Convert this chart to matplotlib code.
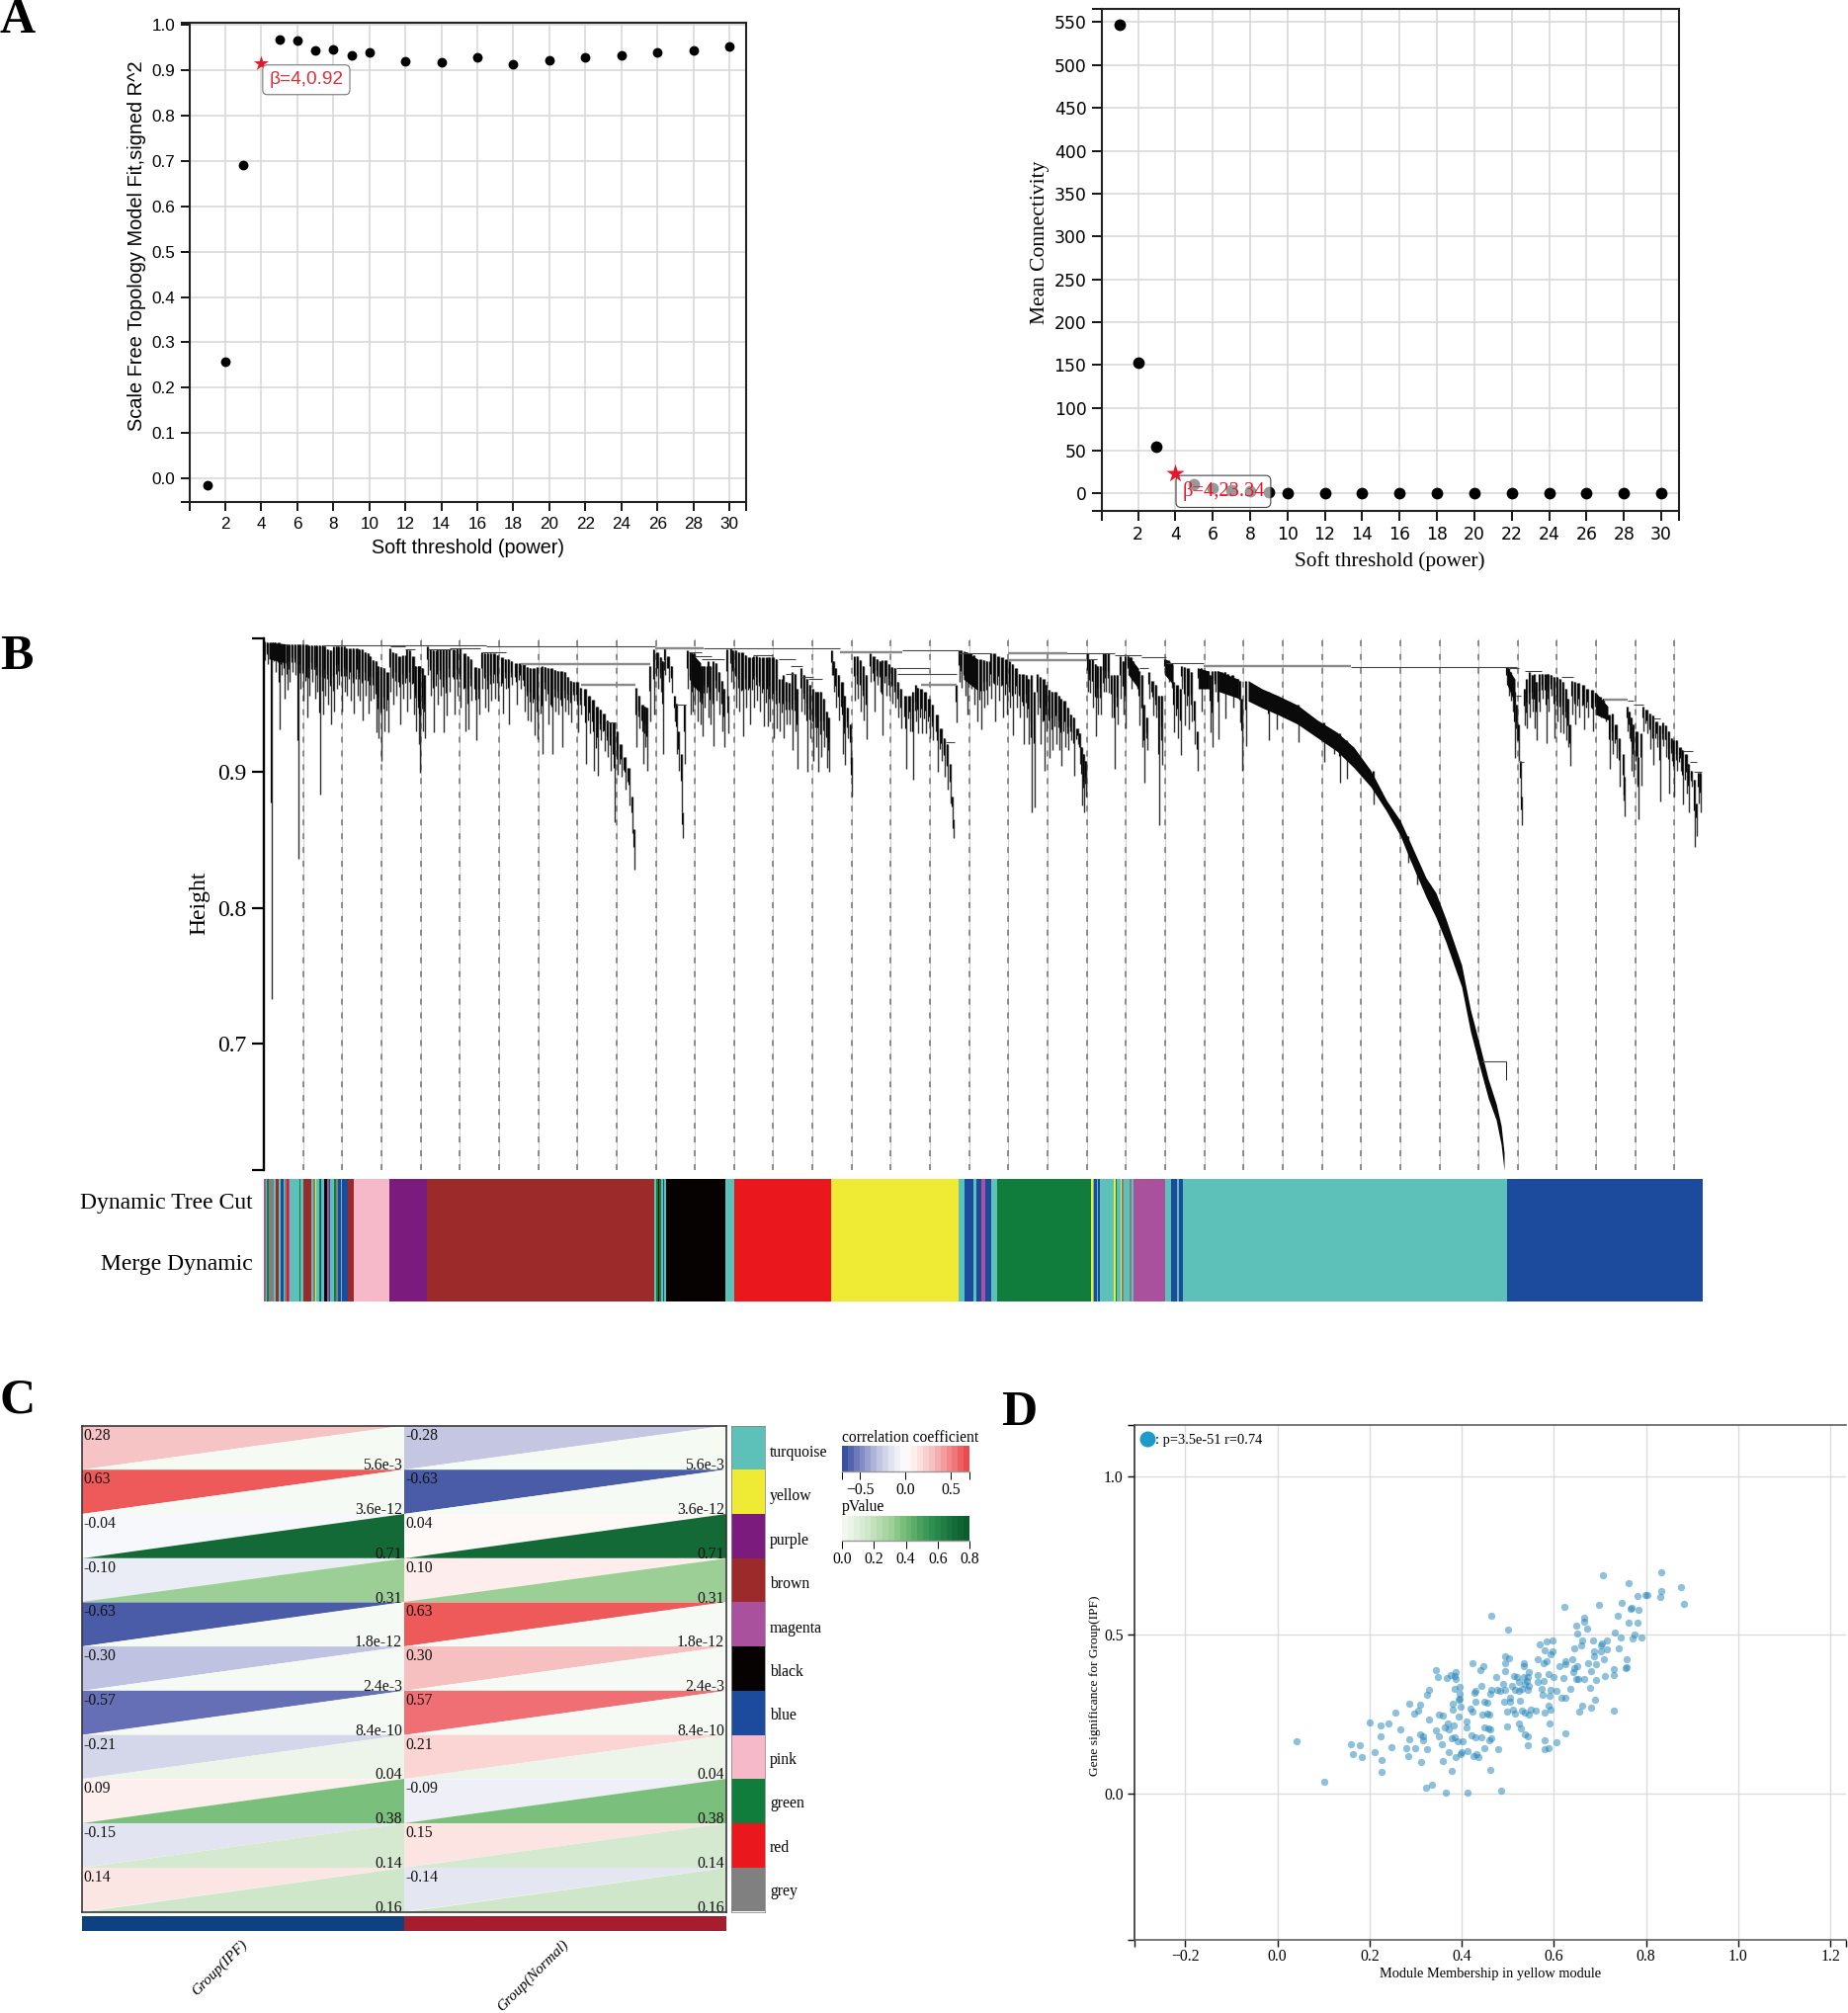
import numpy as np
import matplotlib
matplotlib.use("Agg")
import matplotlib.pyplot as plt
from matplotlib.colors import LinearSegmentedColormap, Normalize
from matplotlib.collections import LineCollection
from matplotlib.patches import Polygon

W, H = 1870, 2037
SERIF = "Liberation Serif"
SANS = "Liberation Sans"

# ---------- Panel A ----------
power = [1,2,3,4,5,6,7,8,9,10,12,14,16,18,20,22,24,26,28,30]
fit_r2 = [-0.014,0.258,0.690,0.916,0.967,0.965,0.943,0.947,0.934,0.940,0.920,0.917,0.929,0.914,0.923,0.928,0.934,0.940,0.944,0.953]
mean_k = [547,153,55,23.34,11,6.5,4,2.5,1.5,1.0,0.6,0.3,0.2,0.1,0.08,0.06,0.05,0.04,0.03,0.02]
picked_power = 4
power_ticks = [2,4,6,8,10,12,14,16,18,20,22,24,26,28,30]
fit_ticks = [0.0,0.1,0.2,0.3,0.4,0.5,0.6,0.7,0.8,0.9,1.0]
k_ticks = [0,50,100,150,200,250,300,350,400,450,500,550]

# ---------- Panel B ----------
# (leaf position, branch top, leaf tip) - heights in thousandths
tree_first = [
(1,996,982),(4,995,979),(8,995,733),(10,995,981),(12,995,973),(16,995,931),(18,994,971),(21,994,954),(24,994,960),(26,994,966),
(29,994,973),(32,994,971),(35,994,836),(37,994,961),(40,994,952),(44,994,940),(46,993,956),(49,993,966),(52,993,954),(54,993,959),
(57,993,883),(60,993,942),(62,992,956),(65,990,949),(68,989,935),(71,992,944),(74,992,961),(76,992,964),(79,992,944),(82,992,959),
(84,991,956),(88,991,952),(91,991,943),(95,991,956),(97,990,952),(100,990,938),(103,988,956),(106,987,943),(108,985,952),(111,982,954),
(114,981,929),(116,978,925),(119,977,908),(122,976,930),(126,973,929),(128,991,959),(131,988,949),(134,987,956),(138,985,935),(141,986,954),
(145,990,944),(148,989,954),(152,985,942),(154,978,930),(157,978,920),(158,978,899),(161,976,930),(163,971,925),(166,992,971),(169,990,956),
(172,989,929),(176,990,949),(179,990,956),(182,990,929),(185,990,941),(188,990,959),(193,990,942),(196,991,956),(199,991,947),(204,987,930),
(207,985,931),(210,983,952),(215,977,923),(218,976,942),(221,988,961),(224,987,947),(227,987,944),(230,987,952),(234,987,954),(237,986,952),
(242,984,943),(245,983,961),(248,983,935),(251,981,964),(256,980,949),(260,980,961),(264,979,944),(267,977,938),(270,976,937),(274,976,927),
(277,977,924),(282,978,913),(285,977,952),(288,976,935),(292,976,913),(295,975,944),(298,974,942),(302,974,918),(305,973,944),(308,970,942),
(311,967,936),(314,966,952),(318,966,929),(321,962,942),(326,961,906),(330,956,928),(334,953,901),(338,948,897),(341,946,923),(345,943,915),
(348,938,911),(351,936,901),(355,936,863),(358,930,898),(362,920,896),(366,911,887),(370,903,875),(373,882,855),(375,858,828),
]
tree_second = [
(377,962,918),(380,956,932),(384,949,906),(386,948,918),(388,947,901),(391,978,937),(395,990,942),(399,988,961),(402,984,959),(404,981,913),
(406,991,971),(410,985,966),(413,978,958),(416,956,937),(418,950,913),(420,930,901),(423,913,870),(424,870,851),(426,949,906),(429,989,961),
(432,988,942),(434,987,944),(436,987,949),(439,981,937),(442,978,935),(444,978,926),(446,978,947),(450,981,940),(452,978,935),(455,981,919),
(458,980,952),(461,973,942),(464,967,930),(466,961,918),(469,990,954),(470,956,928),(473,991,966),(475,989,961),(478,989,947),(481,988,944),
(485,988,926),(488,986,947),(492,984,935),(496,985,947),(499,985,952),(502,984,944),(506,984,933),(510,984,933),(512,984,937),(516,984,925),
(519,983,932),(522,968,930),(526,971,925),(529,966,935),(532,965,935),(535,973,916),(538,972,930),(540,961,902),(544,976,944),(547,971,942),
(550,968,900),(553,964,925),(556,961,908),(559,959,918),(561,959,900),(564,959,911),(567,954,918),(570,944,903),(572,940,900),(575,989,971),
(577,981,959),(579,976,947),(582,971,938),(586,966,913),(588,956,905),(591,947,925),(594,935,906),(595,911,882),(598,985,952),(601,985,954),
(604,982,944),(607,978,938),(610,971,924),(614,987,966),(618,985,944),(621,983,964),(624,981,959),(626,982,927),(630,982,956),(633,979,956),
(636,977,950),(639,976,947),(642,966,940),(645,961,932),(650,956,902),(654,956,930),(657,959,894),(660,964,937),(662,962,928),(666,961,928),
(670,959,928),(674,954,925),(677,949,923),(682,942,900),(686,932,908),(689,925,896),(692,920,887),(695,906,877),(697,882,865),(698,865,851),
]
tree_third = [
(701,964,936),(704,989,966),(706,989,962),(710,988,956),(712,988,942),(716,987,961),(719,986,949),(722,983,937),(726,983,931),(729,982,947),
(732,981,949),(736,987,954),(740,987,937),(744,985,952),(748,984,940),(752,983,942),(755,981,947),(758,979,927),(762,976,947),(765,972,940),
(769,972,920),(772,971,940),(774,968,920),(777,971,870),(780,959,874),(783,972,942),(786,970,920),(790,968,901),(792,964,930),(795,960,910),
(798,959,916),(802,959,920),(805,956,916),(807,954,904),(811,952,918),(814,947,916),(817,942,923),(820,940,897),(824,932,920),(826,928,906),
(828,918,875),(830,913,870),(832,908,882),(834,987,959),(836,983,958),(839,983,947),(842,979,926),(844,978,942),(847,978,942),(850,987,959),
(852,987,959),(855,987,958),(858,971,940),(861,971,902),(864,971,935),(867,985,954),(870,981,942),(872,985,932),(875,985,971),(878,984,961),
(880,981,968),(884,976,961),(886,974,934),(889,971,918),(891,949,892),(894,940,916),(896,973,954),(900,967,941),(903,964,940),(906,956,861),
(909,956,905),(912,983,971),(916,982,966),(919,979,962),(921,966,929),(925,964,925),(928,961,912),(929,978,961),(932,977,934),(936,976,931),
(939,973,937),(942,952,920),(945,930,901),(946,976,961),(949,976,944),(952,975,961),(956,974,961),(958,971,929),(960,974,918),(963,974,959),
(966,974,924),(970,973,959),(973,973,939),(976,972,959),(981,971,947),(986,968,954),(988,967,936),(990,954,901),(994,967,919),
(1017,959,923),(1025,956,931),(1047,949,922),(1073,936,907),(1083,930,913),(1089,928,892),(1096,923,895),(1123,901,876),(1158,853,833),(1167,832,817),(1180,817,805),
]
tree_fourth = [
(1258,977,964),(1260,976,956),(1262,973,952),(1264,968,944),(1266,959,910),(1268,949,923),(1270,935,908),(1272,908,881),(1273,882,861),(1276,961,934),
(1278,968,932),(1281,973,940),(1284,971,944),(1286,972,932),(1288,966,923),(1291,972,944),(1294,972,954),(1298,972,921),(1300,972,944),(1303,971,956),
(1306,970,925),(1309,970,937),(1312,968,929),(1315,966,928),(1318,961,923),(1320,954,918),(1322,935,904),(1324,967,942),(1327,966,935),(1331,965,940),
(1336,964,931),(1340,961,940),(1345,960,930),(1348,958,942),(1353,955,940),(1356,954,942),(1358,949,937),(1362,942,902),(1365,943,913),(1369,935,910),
(1372,925,889),(1376,913,879),(1377,896,867),(1380,948,930),(1382,944,925),(1384,940,901),(1386,935,896),(1390,930,889),(1391,911,865),(1394,928,890),
(1396,948,930),(1400,946,928),(1403,943,917),(1406,941,905),(1410,937,918),(1413,934,878),(1416,936,919),(1419,934,911),(1422,930,884),(1425,925,908),
(1427,923,882),(1430,923,901),(1434,918,901),(1436,916,876),(1440,913,884),(1442,906,870),(1445,901,889),(1448,894,845),(1450,877,853),(1452,899,877),(1454,899,870),
]
# dense run of the turquoise module: upper and lower edge of the solid band
band_leaf = [996,1010,1026,1046,1066,1086,1103,1120,1136,1150,1160,1176,1186,1196,1212,1221,1230,1239,1247,1252,1255]
band_upper = [967,961,956,949,938,929,918,901,879,864,848,822,811,792,758,725,700,674,656,640,620]
band_lower = [952,947,942,935,925,915,903,889,871,853,835,808,793,775,742,709,684,660,644,626,607]
# other solid blocks of branches: start, end, top at start, top at end, bottom at start, bottom at end
dense_blocks = [(946,956,976,974,961,961),(966,986,974,968,959,954),(875,885,985,976,971,961),(912,920,983,979,971,964),
                (1258,1266,977,968,964,950),(1348,1360,958,948,942,938),(5,22,995,994,983,980),
                (432,442,988,980,965,958),(708,722,989,983,968,960)]
# merges: start leaf, end leaf, height
merges_thin = [(60,225,993),(225,396,992),(445,583,991),(646,703,989),(703,736,987),(793,861,987),(861,888,986),(888,913,984),(913,951,980),
(1100,1268,977),(346,356,936),(417,427,949),(641,701,972),(640,673,976),(690,699,922),(430,443,988),(436,453,985),(443,466,983),(495,515,986),
(521,538,983),(533,545,978),(528,536,972),(551,565,968),(543,556,970),(1260,1270,976),(1276,1293,974),(1313,1325,970),(1380,1386,952),(1386,1396,949),
(1406,1413,939),(1436,1446,915),(1443,1450,907),(1447,1455,900),(1267,1272,956),(1270,1275,907),(836,843,983),(886,895,976),(128,143,992),(143,153,990),
(166,190,990),(188,219,991),(221,245,988),(1232,1257,687)]
merges_thick = [(396,445,991),(583,646,988),(753,813,987),(753,833,982),(951,1100,978),(260,391,979),(321,376,964),(665,701,964),(1356,1380,953)]
guide_step = 39.65
guide_count = 36
height_ticks = [0.7,0.8,0.9]

module_color = {"turquoise":"#5DC0B9","yellow":"#EFEA34","purple":"#7B1B7D","brown":"#9C2A2B","magenta":"#A9519C","black":"#060202",
                "blue":"#1C4A9C","pink":"#F5B9C9","green":"#117D3D","red":"#EA171C","grey":"#808080"}
# module strip, read left to right: (module, number of leaves)
strip = [("magenta",2),("turquoise",1),("green",2),("grey",5),("turquoise",2),("brown",3),("turquoise",2),("blue",3),("turquoise",1),("grey",2),("red",2),
("magenta",1),("turquoise",10),("green",1),("turquoise",3),("brown",8),("turquoise",2),("grey",2),("yellow",1),("turquoise",3),("green",1),("blue",1),
("turquoise",3),("black",3),("magenta",2),("blue",1),("turquoise",4),("green",2),("grey",2),("blue",3),("turquoise",1),("blue",6),("brown",6),
("pink",36),("purple",37.5),("brown",230.5),
("turquoise",2),("green",2),("black",1),("green",2),("turquoise",2),("blue",1),("turquoise",2),
("black",60),("turquoise",9),("red",98),("yellow",129),
("turquoise",6),("blue",9),("turquoise",3),("blue",5),("magenta",4),("blue",6),("turquoise",6),
("green",95),
("yellow",2),("turquoise",1),("blue",3),("turquoise",1),("blue",2),("turquoise",14),("yellow",2),("green",1),("turquoise",4),("yellow",1),("grey",2),("turquoise",6),("grey",2),("turquoise",2),
("magenta",32),
("turquoise",6),("blue",6),("turquoise",2),("blue",4),("turquoise",3),
("turquoise",325),("blue",198)]

# ---------- Panel C ----------
modules = ["turquoise","yellow","purple","brown","magenta","black","blue","pink","green","red","grey"]
cor_ipf = [0.28,0.63,-0.04,-0.10,-0.63,-0.30,-0.57,-0.21,0.09,-0.15,0.14]
cor_normal = [-0.28,-0.63,0.04,0.10,0.63,0.30,0.57,0.21,-0.09,0.15,-0.14]
p_values = [5.6e-3,3.6e-12,0.71,0.31,1.8e-12,2.4e-3,8.4e-10,0.04,0.38,0.14,0.16]
p_labels = ["5.6e-3","3.6e-12","0.71","0.31","1.8e-12","2.4e-3","8.4e-10","0.04","0.38","0.14","0.16"]
traits = ["Group(IPF)","Group(Normal)"]
trait_colors = ["#0E4180","#A61E2E"]
cor_stops = [(-0.70,"#2D479F"),(-0.63,"#4A5CA8"),(-0.57,"#656FB5"),(-0.30,"#BFC2E0"),(-0.15,"#E2E4F1"),(0.0,"#FFFFFF"),
             (0.15,"#FCE4E2"),(0.30,"#F6BFC0"),(0.57,"#EF7075"),(0.63,"#EE5A5A"),(0.71,"#E9424A")]

# ---------- Panel D ----------
mm = [.832,.707,.763,.875,.834,.831,.781,.798,.803,.748,.697,.623,.768,.766,.784,.883,.464,.739,.665,.666,.762,.782,.649,.673,.500,.733,.651,.775,.744,.771,
.791,.662,.685,.716,.704,.597,.585,.570,.659,.645,.741,.703,.579,.598,.688,.714,.703,.593,.495,.502,.564,.688,.640,.758,.708,.625,.584,.535,.675,.423,
.447,.495,.534,.577,.613,.626,.691,.650,.645,.759,.756,.729,.345,.440,.495,.681,.643,.545,.386,.377,.384,.348,.368,.386,.475,.514,.520,.565,.588,.544,
.600,.621,.648,.652,.666,.691,.711,.729,.534,.541,.578,.564,.490,.509,.525,.546,.538,.442,.395,.385,.430,.427,.465,.477,.484,.494,.515,.525,.531,.543,
.574,.593,.606,.635,.678,.330,.324,.395,.463,.576,.590,.624,.616,.396,.393,.286,.310,.381,.397,.430,.449,.455,.493,.505,.505,.526,.588,.662,.681,.690,
.731,.306,.296,.257,.380,.420,.424,.498,.512,.516,.530,.537,.545,.549,.561,.579,.592,.656,.350,.359,.445,.455,.460,.393,.200,.242,.224,.329,.410,.525,
.590,.267,.363,.370,.382,.411,.343,.449,.457,.461,.499,.529,.372,.309,.224,.316,.286,.317,.350,.378,.384,.391,.403,.421,.429,.442,.460,.465,.538,.543,
.624,.581,.606,.042,.159,.180,.247,.279,.298,.357,.325,.450,.480,.544,.588,.579,.164,.183,.212,.283,.372,.399,.412,.397,.387,.425,.432,.437,.227,.312,
.359,.226,.379,.463,.101,.336,.323,.365,.413,.486]
gs = [.698,.688,.663,.652,.639,.621,.623,.625,.625,.602,.595,.588,.586,.582,.578,.598,.560,.561,.555,.543,.540,.538,.531,.520,.517,.509,.504,.501,.493,.490,
.493,.483,.483,.484,.475,.483,.480,.471,.466,.459,.458,.466,.452,.448,.448,.455,.449,.439,.433,.427,.425,.434,.425,.424,.423,.417,.416,.412,.412,.410,
.403,.411,.402,.410,.403,.408,.409,.402,.395,.400,.397,.394,.391,.389,.386,.388,.382,.382,.384,.374,.372,.368,.364,.362,.369,.370,.369,.374,.377,.369,
.367,.365,.361,.361,.361,.359,.372,.375,.369,.356,.354,.352,.346,.341,.351,.340,.346,.341,.336,.329,.323,.319,.327,.328,.325,.327,.327,.323,.330,.326,
.330,.326,.323,.329,.333,.326,.312,.315,.314,.312,.309,.303,.302,.300,.295,.284,.282,.283,.276,.291,.291,.287,.289,.303,.289,.292,.278,.277,.272,.297,
.263,.262,.252,.255,.265,.268,.258,.259,.265,.252,.261,.255,.250,.265,.261,.257,.264,.260,.250,.248,.251,.252,.250,.244,.226,.223,.214,.234,.227,.222,
.221,.203,.208,.221,.215,.208,.201,.208,.207,.204,.212,.207,.203,.188,.180,.180,.171,.168,.180,.174,.177,.166,.166,.184,.177,.179,.169,.175,.187,.180,
.190,.170,.163,.165,.157,.153,.146,.145,.145,.157,.141,.145,.141,.153,.145,.140,.124,.117,.133,.120,.131,.131,.135,.125,.116,.120,.124,.115,.106,.101,
.103,.069,.071,.075,.039,.029,.019,.004,.003,.009]
mm_ticks = [-0.2,0.0,0.2,0.4,0.6,0.8,1.0,1.2]
gs_ticks = [0.0,0.5,1.0]

# ---------- helpers ----------
fig = plt.figure(figsize=(W/100, H/100), dpi=100, facecolor="white")
PX = 0.72

def make_ax(l, t, r, b, **kw):
    return fig.add_axes([l/W, 1-b/H, (r-l)/W, (b-t)/H], **kw)

def ptext(x, y, s, **kw):
    kw.setdefault("ha", "center")
    kw.setdefault("va", "center")
    return fig.text(x/W, 1-y/H, s, **kw)

for letter, lx, ly in [("A",0,33),("B",0,677),("C",0,1430),("D",1013,1442)]:
    ptext(lx, ly, letter, ha="left", va="baseline", family=SERIF, weight="bold", fontsize=36)

def style_scatter_axes(ax, xticks, yticks, family, size, lw=1.6, ticklen=9, pad=4):
    ax.set_xticks(xticks)
    ax.set_yticks(yticks)
    x0, x1 = ax.get_xlim(); y0, y1 = ax.get_ylim()
    ax.set_xticks([x0, x1], minor=True)
    ax.set_yticks([y0, y1], minor=True)
    ax.grid(True, which="major", color="#d8d8d8", lw=1.6*PX, zorder=0)
    ax.set_axisbelow(True)
    for sp in ax.spines.values():
        sp.set_linewidth(lw*PX*1.3)
        sp.set_color("#222222")
    ax.tick_params(which="both", length=ticklen*PX, width=lw*PX*1.2, color="#111111")
    ax.tick_params(axis="both", which="major", labelsize=size, pad=pad)
    for lab in ax.get_xticklabels()+ax.get_yticklabels():
        lab.set_family(family)

# ---------- Panel A left ----------
ax = make_ax(192, 23.4, 755, 508)
ax.set_xlim(0.02, 30.93); ax.set_ylim(-0.052, 1.004)
style_scatter_axes(ax, power_ticks, fit_ticks, SANS, 12.3)
pw = np.array(power); fit = np.array(fit_r2)
keep = pw != picked_power
ax.scatter(pw[keep], fit[keep], s=50, color="black", lw=0, zorder=3, clip_on=False)
ax.scatter(pw[~keep], fit[~keep], s=130, marker="*", color="#E2182B", lw=0, zorder=4)
ax.annotate("β=4,0.92", xy=(picked_power, fit[~keep][0]), xytext=(32.7,-12.2), textcoords="offset points",
            ha="center", va="center", color="#D8303A", family=SANS, fontsize=13.8, zorder=5,
            bbox=dict(boxstyle="round,pad=0.34,rounding_size=0.25", fc="white", ec="#777777", lw=0.8))
ptext(474, 554.5, "Soft threshold (power)", family=SANS, fontsize=14.2)
ptext(138, 249, "Scale Free Topology Model Fit,signed R^2", rotation=90, family=SANS, fontsize=14.4)

# ---------- Panel A right ----------
ax = make_ax(1115, 8.5, 1699, 516.5)
ax.set_xlim(0.07, 30.95); ax.set_ylim(-19.6, 566)
style_scatter_axes(ax, power_ticks, k_ticks, "DejaVu Sans", 12.4, ticklen=10)
kv = np.array(mean_k)
ax.scatter(pw[keep], kv[keep], s=72, color="black", lw=0, zorder=3)
ax.scatter(pw[~keep], kv[~keep], s=190, marker="*", color="#E2182B", lw=0, zorder=6)
ax.annotate("β=4,23.34", xy=(picked_power, kv[~keep][0]), xytext=(35,-13), textcoords="offset points",
            ha="center", va="center", color="#E2182B", family=SERIF, fontsize=14.8, zorder=5,
            bbox=dict(boxstyle="round,pad=0.3,rounding_size=0.25", fc=(1,1,1,0.6), ec="#444444", lw=0.8))
ptext(1406, 568, "Soft threshold (power)", family=SERIF, fontsize=15.3)
ptext(1052, 245, "Mean Connectivity", rotation=90, family=SERIF, fontsize=15.5)

# ---------- Panel B ----------
ax = make_ax(267, 646, 1723, 1183.5)
ax.set_xlim(0, 1456); ax.set_ylim(0.6076, 0.998)
for s in ("top","right","bottom"):
    ax.spines[s].set_visible(False)
ax.spines["left"].set_linewidth(2.4*PX)
ax.set_xticks([])
ax.set_yticks(height_ticks)
ax.set_yticks([0.6076, 0.998], minor=True)
ax.tick_params(which="both", axis="y", length=12*PX, width=2.2*PX, pad=4)
ax.tick_params(axis="y", labelsize=17)
for lab in ax.get_yticklabels():
    lab.set_family(SERIF)
guides = guide_step*np.arange(1, guide_count+1)
ax.vlines(guides, 0.6076, 0.998, color="#c4c4c4", lw=0.8*PX, zorder=1)
ax.vlines(guides, 0.6076, 0.998, color="#6f6f6f", lw=1.5*PX, linestyles=(0,(4,5.3)), zorder=1)
drops = np.array(tree_first+tree_second+tree_third+tree_fourth, dtype=float)
leaf, top, tip = drops[:,0], drops[:,1]/1000, drops[:,2]/1000
ax.vlines(leaf, top, tip, color="#303030", lw=1.4*PX, zorder=2)
# twigs between neighbouring leaves of one lobe, reaching part of the way down
close = (np.diff(leaf) <= 5) & (np.abs(np.diff(top)) < 0.012)
mid_leaf = (leaf[:-1]+leaf[1:])/2
mid_top = np.minimum(top[:-1], top[1:])
mid_tip = np.maximum(tip[:-1], tip[1:])
ax.vlines(mid_leaf[close], mid_top[close], (mid_tip+(mid_top-mid_tip)*0.35)[close], color="#181818", lw=1.3*PX, zorder=2)
ax.vlines(leaf-0.7, top, tip+(top-tip)*0.55, color="#000000", lw=1.2*PX, zorder=3)
ax.fill_between(band_leaf, np.array(band_upper)/1000, np.array(band_lower)/1000, color="#0a0a0a", lw=0, zorder=3)
for a, b, t0, t1, l0, l1 in dense_blocks:
    ax.fill_between([a, b], [t0/1000, t1/1000], [l0/1000, l1/1000], color="#0a0a0a", lw=0, zorder=3)
ax.add_collection(LineCollection([[(a,h/1000),(b,h/1000)] for a,b,h in merges_thin], colors="#444444", lw=1.1*PX, zorder=3))
ax.add_collection(LineCollection([[(a,h/1000),(b,h/1000)] for a,b,h in merges_thick], colors="#8a8a8a", lw=2.4*PX, zorder=3))
ax.vlines([1257], [0.673], [0.687], color="#222222", lw=1*PX, zorder=3)
ptext(202, 914, "Height", rotation=90, family=SERIF, fontsize=17)

ax = make_ax(267, 1193, 1723, 1317)
ax.set_xlim(0, 1456); ax.set_ylim(0, 1); ax.axis("off")
left = 0.0
for name, n in strip:
    ax.bar(left, 1, width=n, bottom=0, align="edge", color=module_color[name], lw=0)
    left += n
ptext(256, 1217, "Dynamic Tree Cut", ha="right", family=SERIF, fontsize=17)
ptext(256, 1279.5, "Merge Dynamic", ha="right", family=SERIF, fontsize=17)

# ---------- Panel C ----------
cor_lo, cor_hi = cor_stops[0][0], cor_stops[-1][0]
cor_cmap = LinearSegmentedColormap.from_list("cor", [((v-cor_lo)/(cor_hi-cor_lo), c) for v, c in cor_stops], N=512)
p_cmap = LinearSegmentedColormap.from_list("pv", [(0,"#F6FAF4"),(0.2,"#D0E6CA"),(0.39,"#9CCF95"),(0.49,"#74BC76"),(0.7,"#2F9150"),(0.89,"#136A37"),(1,"#0A5A2B")])
cor_norm = Normalize(cor_lo, cor_hi)
p_norm = Normalize(0, 0.8)

ax = make_ax(83, 1442.5, 735, 1934.5)
n_rows = len(modules)
ax.set_xlim(0, 2); ax.set_ylim(n_rows, 0)
ax.set_xticks([]); ax.set_yticks([])
for sp in ax.spines.values():
    sp.set_linewidth(1.6*PX); sp.set_color("#333333"); sp.set_zorder(5)
for c, cors in enumerate([cor_ipf, cor_normal]):
    for r, (v, pv, pl) in enumerate(zip(cors, p_values, p_labels)):
        ax.add_patch(Polygon([(c,r),(c+1,r),(c,r+1)], closed=True, fc=cor_cmap(cor_norm(v)), ec="none"))
        ax.add_patch(Polygon([(c+1,r),(c+1,r+1),(c,r+1)], closed=True, fc=p_cmap(p_norm(pv)), ec="none"))
        ax.annotate(f"{v:.2f}", xy=(c,r), xytext=(0.8,-1.5), textcoords="offset points", ha="left", va="top",
                    family=SERIF, fontsize=11.3, color="#111111")
        ax.annotate(pl, xy=(c+1,r+1), xytext=(-1.5,-3), textcoords="offset points", ha="right", va="bottom",
                    family=SERIF, fontsize=11.3, color="#111111", annotation_clip=False)

ax = make_ax(83, 1939, 735, 1954)
ax.set_xlim(0, 2); ax.set_ylim(0, 1); ax.axis("off")
for c, col in enumerate(trait_colors):
    ax.bar(c, 1, width=1, align="edge", color=col, lw=0)
ptext(243, 1961, traits[0], ha="right", va="top", rotation=45, rotation_mode="anchor", family=SERIF, style="italic", fontsize=11)
ptext(568, 1961, traits[1], ha="right", va="top", rotation=45, rotation_mode="anchor", family=SERIF, style="italic", fontsize=11)

ax = make_ax(740, 1442.5, 773.6, 1934.5)
ax.set_xlim(0, 1); ax.set_ylim(n_rows, 0); ax.set_xticks([]); ax.set_yticks([])
for r, m in enumerate(modules):
    ax.bar(0, 1, width=1, bottom=r, align="edge", color=module_color[m], lw=0)
    ptext(779, 1470+r*44.4, m, ha="left", family=SERIF, fontsize=11.3)
for sp in ax.spines.values():
    sp.set_linewidth(0.8*PX); sp.set_color("#888888")

# colour keys
def key(t, b, cmap, lo, hi, ticks, labels, n):
    a = make_ax(852, t, 981, b)
    edges = np.linspace(lo, hi, n+1)
    a.pcolormesh(edges, [0,1], np.array([(edges[:-1]+edges[1:])/2]), cmap=cmap, norm=Normalize(lo,hi))
    a.set_xlim(lo, hi); a.set_yticks([])
    for s in ("top","left","right"):
        a.spines[s].set_visible(False)
    a.spines["bottom"].set_color("#999999"); a.spines["bottom"].set_linewidth(1.4*PX)
    a.set_xticks(ticks); a.set_xticklabels(labels, family=SERIF, fontsize=11.3)
    a.tick_params(axis="x", length=8*PX, width=1*PX, pad=2)
key(1463, 1489, cor_cmap, cor_lo, cor_hi, [cor_lo,-0.5,0.0,0.5,cor_hi], ["","−0.5","0.0","0.5",""], 22)
key(1534, 1559, p_cmap, 0.0, 0.8, [0.0,0.2,0.4,0.6,0.8], ["0.0","0.2","0.4","0.6","0.8"], 22)
ptext(852, 1455, "correlation coefficient", ha="left", family=SERIF, fontsize=11.2)
ptext(852, 1525, "pValue", ha="left", family=SERIF, fontsize=11.3)

# ---------- Panel D ----------
ax = make_ax(1148, 1441.5, 1868, 1963)
ax.set_xlim(-0.31, 1.234); ax.set_ylim(-0.459, 1.162)
style_scatter_axes(ax, mm_ticks, gs_ticks, SERIF, 11.3, lw=1.2, ticklen=7, pad=1.5)
ax.tick_params(axis="y", which="major", pad=3)
ax.spines["right"].set_visible(False)
ax.spines["top"].set_color("#555555"); ax.spines["bottom"].set_color("#555555")
ax.grid(True, which="major", color="#dcdcdc", lw=1.4*PX)
ax.scatter(mm, gs, s=28, color="#2083B8", alpha=0.5, lw=0, zorder=3)
ax.scatter([13/720], [1-14/521.5], s=133, color="#1E9BCB", lw=0, transform=ax.transAxes, zorder=4)
ptext(1169, 1458, ": p=3.5e-51 r=0.74", ha="left", family=SERIF, fontsize=10.4)
ptext(1508, 1998, "Module Membership in yellow module", family=SERIF, fontsize=10.4)
ptext(1108, 1706, "Gene significance for Group(IPF)", rotation=90, family=SERIF, fontsize=9.7)

fig.savefig("out.png", dpi=100, facecolor="white")
